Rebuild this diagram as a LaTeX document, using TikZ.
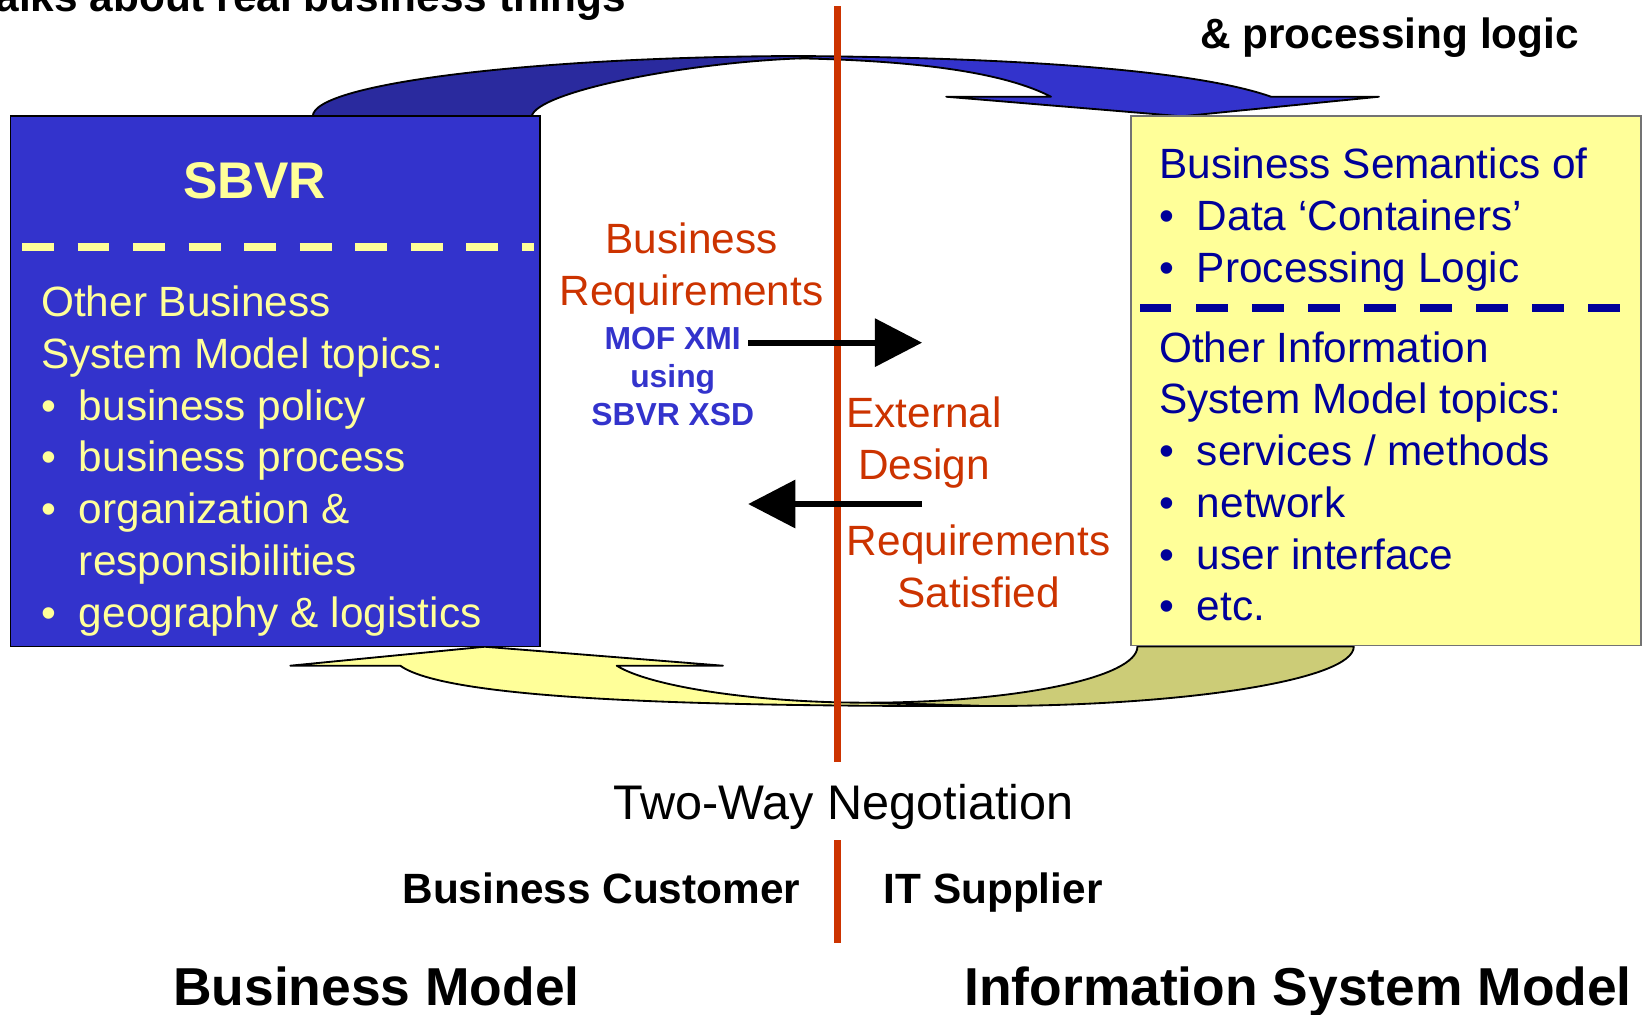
\documentclass[tikz,border=0pt]{standalone}
\usepackage{fontspec}
\setmainfont{Liberation Sans}
\usepackage{xcolor}
\usetikzlibrary{arrows.meta}

\definecolor{sbvrblue}{HTML}{3333CC}
\definecolor{backblue}{HTML}{2A2A9E}
\definecolor{paleyellow}{HTML}{FFFF99}
\definecolor{backyellow}{HTML}{CCCC77}
\definecolor{isnavy}{HTML}{000099}
\definecolor{divred}{HTML}{CC3300}

\newcommand{\bul}{\makebox[0.72cm][l]{\textbullet}}

\tikzset{
	txt/.style={font=\fontsize{23}{28.1}\selectfont, inner sep=0pt},
	boldtxt/.style={font=\fontsize{23}{28.1}\selectfont\bfseries, inner sep=0pt},
	bigbold/.style={font=\fontsize{29}{34}\selectfont\bfseries, inner sep=0pt, anchor=base west},
	xmitxt/.style={font=\fontsize{17.3}{20.7}\selectfont\bfseries, inner sep=0pt},
	ribbon/.style={draw=black, line width=1pt, line join=round},
	flow/.style={line width=3.2pt, -{Triangle[length=0.9cm,width=0.9cm]}},
	divider/.style={divred, line width=4pt}
}

\begin{document}
\begin{tikzpicture}[x=0.02cm,y=-0.02cm]

		    \useasboundingbox (0,0) rectangle (1568,968);

		    \filldraw[ribbon, fill=sbvrblue] (755,53.4) .. controls (1000,55) and (1150,70) .. (1213,92.3) -- (1316,92.3) -- (1128,111) -- (903,92.3) -- (1003,92.3) .. controls (960,70) and (880,58) .. (763.5,55.7) -- cycle;
		    \filldraw[ribbon, fill=backblue] (298.5,111) .. controls (298.5,79) and (518,53.4) .. (775,53.4) -- (763.5,55.7) .. controls (650,60) and (512,88) .. (507.4,111) -- cycle;

		    \filldraw[ribbon, fill=backyellow] (1085.5,617) .. controls (1085.5,646.6) and (969.5,670.6) .. (826.5,670.6) -- (938.5,673.8) .. controls (1133,674) and (1292,648.5) .. (1292,617) -- cycle;
		    \filldraw[ribbon, fill=paleyellow] (462.6,617.2) -- (690,635.3) -- (588.6,635.3) .. controls (620,655) and (720,670.6) .. (826.5,670.6) -- (938.5,673.8) .. controls (700,674) and (430,670) .. (382,635.3) -- (277,635.3) -- cycle;

		    \node (BM) [draw=black, line width=1pt, fill=sbvrblue, minimum width=10.1cm, minimum height=10.12cm] at (262.5,364) {};
		    \node (ISM) [draw=black!55, line width=1pt, fill=paleyellow, minimum width=9.74cm, minimum height=10.1cm] at (1322.5,363.5) {};

		    \node (SBVR) [font=\fontsize{28}{33}\selectfont\bfseries, text=paleyellow, inner sep=0pt, anchor=base] at (243,189.6) {SBVR};
		    \draw[paleyellow, line width=0.16cm, dash pattern=on 0.61cm off 0.45cm] (21,236) -- (510,236);
		    \node (BMtopics) [txt, text=paleyellow, align=left, anchor=base west] at (39,598.5) {Other Business\\System Model topics:\\\bul business policy\\\bul business process\\\bul organization \&\\\hspace*{0.72cm}responsibilities\\\bul geography \& logistics};

		    \node (semantics) [txt, text=isnavy, align=left, anchor=base west] at (1106,269.5) {Business Semantics of\\\bul Data ‘Containers’\\\bul Processing Logic};
		    \draw[isnavy, line width=0.14cm, dash pattern=on 0.6cm off 0.47cm] (1088,294) -- (1548,294);
		    \node (IStopics) [txt, text=isnavy, align=left, anchor=base west] at (1106,592.5) {Other Information\\System Model topics:\\\bul services / methods\\\bul network\\\bul user interface\\\bul etc.};

		    \coordinate (D1) at (799,6);
		    \coordinate (D2) at (799,727);
		    \coordinate (D3) at (799,802);
		    \coordinate (D4) at (799,900);
		    \draw[divider] (D1)--(D2);
		    \draw[divider] (D3)--(D4);

		    \node (bizreq) [txt, text=divred, align=center, anchor=base] at (660,291.5) {Business\\Requirements};
		    \node (xmi) [xmitxt, text=sbvrblue, align=center, anchor=base] at (642,406) {MOF XMI\\using\\SBVR XSD};
		    \node (extdesign) [txt, text=divred, align=center, anchor=base] at (882,457.5) {External\\Design};
		    \node (reqsat) [txt, text=divred, align=center, anchor=base] at (934,579.5) {Requirements\\Satisfied};

		    \coordinate (R1) at (714,327);
		    \coordinate (R2) at (880,327);
		    \coordinate (L1) at (880,481);
		    \coordinate (L2) at (714,481);
		    \draw[flow] (R1)--(R2);
		    \draw[flow] (L1)--(L2);

		    \node (talks) [boldtxt, anchor=base east] at (598,11) {talks about real business things};
		    \node (logic) [boldtxt, anchor=base west] at (1145,46) {\& processing logic};

		    \node (nego) [font=\fontsize{26.4}{31}\selectfont, inner sep=0pt, anchor=base] at (805,782) {Two-Way Negotiation};
		    \node (customer) [boldtxt, anchor=base east] at (764,862.5) {Business Customer};
		    \node (supplier) [boldtxt, anchor=base west] at (843,862.5) {IT Supplier};

		    \node (bizmodel) [bigbold] at (165,960) {Business Model};
		    \node (ismodel) [bigbold] at (920,960) {Information System Model};

	    \end{tikzpicture}
\end{document}
